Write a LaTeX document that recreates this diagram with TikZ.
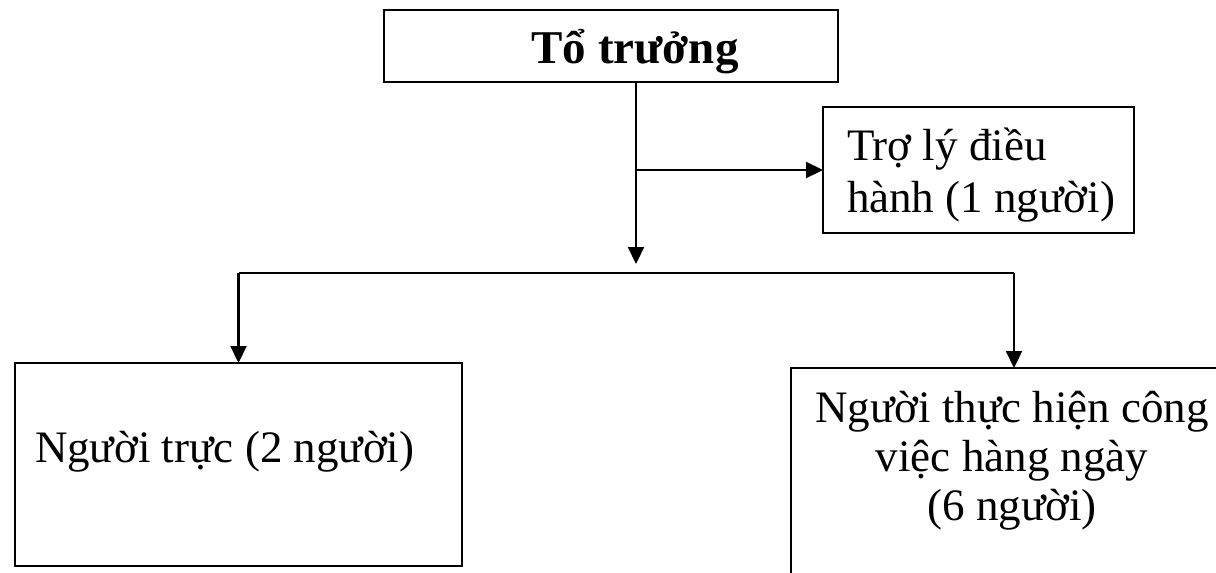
\documentclass[tikz,border=0pt]{standalone}
\usepackage{fontspec}
\setmainfont{Liberation Serif}
\usetikzlibrary{arrows.meta}

\tikzset{
  box/.style={draw, line width=2.2pt, rectangle, inner sep=0pt, outer sep=0pt},
  lbl/.style={inner sep=0pt, outer sep=0pt, font=\fontsize{45}{50}\selectfont},
  head/.style={inner sep=0pt, outer sep=0pt, font=\fontsize{47}{50}\selectfont\bfseries},
  link/.style={line width=2.2pt},
  arr/.style={link, -{Triangle[length=17pt,width=16pt]}}
}

\begin{document}
\begin{tikzpicture}[x=1pt, y=-1pt]
  \clip (0,0) rectangle (1216,573);
  \fill[white] (0,0) rectangle (1216,573);

  % boxes
  \node[box, minimum width=454pt, minimum height=72pt]  (top)  at (611,46) {};
  \node[box, minimum width=311pt, minimum height=126pt] (asst) at (978.5,170) {};
  \node[box, minimum width=447pt, minimum height=203pt] (duty) at (238.5,464.5) {};
  \node[box, minimum width=500pt, minimum height=250pt] (daily) at (1041,493) {};

  % texts
  \node[head, anchor=base] (topT) at (635,63) {Tổ trưởng};
  \node[lbl, anchor=base west] (asstA) at (847,160) {Trợ lý điều};
  \node[lbl, anchor=base west] (asstB) at (847,212) {hành (1 người)};
  \node[lbl, anchor=base west] (dutyT) at (35,462) {Người trực (2 người)};
  \node[lbl, anchor=base] (dailyA) at (1012,422) {Người thực hiện công};
  \node[lbl, anchor=base] (dailyB) at (1012,471) {việc hàng ngày};
  \node[lbl, anchor=base] (dailyC) at (1012,520) {(6 người)};

  % connectors
  \coordinate (fork) at (636,264);
  \coordinate (barL) at (238.5,273);
  \coordinate (barR) at (1014,273);

  \draw[arr] (top.south -| fork) -- (fork);
  \draw[arr] (fork |- asst.west) -- (asst.west);
  \draw[link] (barL) -- (barR);
  \draw[arr] (barL) -- (duty.north);
  \draw[arr] (barR) -- (barR |- daily.north);
\end{tikzpicture}
\end{document}
